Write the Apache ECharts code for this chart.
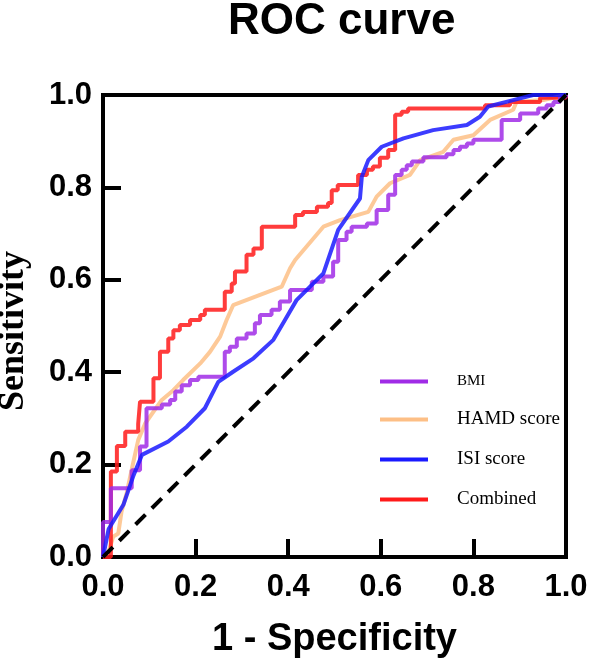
<!DOCTYPE html>
<html>
<head>
<meta charset="utf-8">
<script src="https://cdn.jsdelivr.net/npm/echarts@6/dist/echarts.min.js"></script>
<style>
  html, body { margin: 0; padding: 0; background: #fff; }
  #chart { width: 591px; height: 659px; }
</style>
</head>
<body>
<div id="chart"></div>
<script>
// ROC points: [1 - specificity, sensitivity]
// BMI and Combined are stepwise (each point = top of a vertical rise)
var bmi = [
  [0, 0], [0, 0.076], [0.017, 0.149], [0.062, 0.188], [0.080, 0.239], [0.094, 0.322],
  [0.127, 0.330], [0.145, 0.340], [0.156, 0.358], [0.170, 0.372], [0.188, 0.383],
  [0.206, 0.390], [0.263, 0.444], [0.274, 0.455], [0.289, 0.473], [0.310, 0.484],
  [0.328, 0.506], [0.339, 0.524], [0.364, 0.535], [0.382, 0.553], [0.404, 0.578],
  [0.451, 0.596], [0.476, 0.607], [0.497, 0.639], [0.508, 0.686], [0.526, 0.704],
  [0.537, 0.715], [0.570, 0.722], [0.591, 0.751], [0.616, 0.784], [0.631, 0.827],
  [0.645, 0.838], [0.656, 0.848], [0.667, 0.856], [0.692, 0.865], [0.742, 0.872],
  [0.757, 0.881], [0.771, 0.888], [0.786, 0.895], [0.800, 0.903], [0.861, 0.946],
  [0.901, 0.960], [0.940, 0.971], [0.958, 0.978], [0.973, 0.985], [0.987, 0.996], [1, 1]
];
var hamd = [
  [0, 0], [0.011, 0.008], [0.022, 0.044], [0.033, 0.051], [0.040, 0.098], [0.051, 0.138],
  [0.065, 0.203], [0.076, 0.253], [0.091, 0.289], [0.127, 0.340], [0.152, 0.361],
  [0.173, 0.383], [0.210, 0.419], [0.231, 0.444], [0.253, 0.477], [0.267, 0.513],
  [0.281, 0.545], [0.386, 0.585], [0.404, 0.625], [0.415, 0.643], [0.476, 0.715],
  [0.512, 0.729], [0.573, 0.747], [0.591, 0.780], [0.620, 0.809], [0.663, 0.827],
  [0.685, 0.859], [0.735, 0.877], [0.757, 0.903], [0.800, 0.913], [0.836, 0.946],
  [0.886, 0.968], [0.893, 0.985], [0.951, 0.989], [1, 1]
];
var isi = [
  [0, 0], [0.012, 0.060], [0.019, 0.072], [0.044, 0.113], [0.065, 0.174], [0.084, 0.221],
  [0.141, 0.250], [0.181, 0.282], [0.220, 0.322], [0.249, 0.379], [0.281, 0.401],
  [0.325, 0.430], [0.368, 0.470], [0.393, 0.513], [0.418, 0.556], [0.476, 0.614],
  [0.508, 0.708], [0.555, 0.776], [0.559, 0.823], [0.573, 0.859], [0.602, 0.888],
  [0.649, 0.906], [0.713, 0.924], [0.786, 0.935], [0.814, 0.953], [0.832, 0.975],
  [0.886, 0.989], [0.929, 1.0], [1, 1]
];
var combined = [
  [0, 0], [0.017, 0.185], [0.030, 0.240], [0.048, 0.271], [0.076, 0.288], [0.080, 0.336],
  [0.109, 0.387], [0.123, 0.444], [0.141, 0.473], [0.152, 0.491], [0.166, 0.502],
  [0.188, 0.513], [0.210, 0.524], [0.220, 0.535], [0.263, 0.574], [0.278, 0.592],
  [0.285, 0.618], [0.310, 0.654], [0.325, 0.668], [0.343, 0.715], [0.415, 0.740],
  [0.432, 0.747], [0.462, 0.758], [0.486, 0.766], [0.494, 0.794], [0.507, 0.805],
  [0.551, 0.827], [0.570, 0.838], [0.583, 0.845], [0.598, 0.864], [0.616, 0.881],
  [0.631, 0.957], [0.645, 0.964], [0.659, 0.971], [0.825, 0.978], [0.879, 0.985],
  [0.944, 0.994], [1, 1]
];
var reference = [[0, 0], [1, 1]];
var legendNames = ['BMI', 'HAMD score', 'ISI score', 'Combined'];

var sans = '"Liberation Sans", Arial, sans-serif';
var serif = '"Liberation Serif", "Times New Roman", serif';

var chart = echarts.init(document.getElementById('chart'));

function axisCommon(name) {
  return {
    type: 'value',
    min: 0,
    max: 1,
    interval: 0.2,
    name: name,
    nameLocation: 'middle',
    axisLine: { show: true, lineStyle: { color: '#000', width: 4 } },
    axisTick: { show: true, inside: true, length: 18, lineStyle: { color: '#000', width: 4 } },
    splitLine: { show: false },
    axisLabel: {
      color: '#000',
      fontSize: 31,
      fontWeight: 'bold',
      fontFamily: sans,
      formatter: function (v) { return v.toFixed(1); }
    }
  };
}

var xAxis = axisCommon('1 - Specificity');
xAxis.nameGap = 64;
xAxis.nameTextStyle = { color: '#000', fontSize: 38, fontWeight: 'bold', fontFamily: sans };
xAxis.axisLabel.margin = 15;

var yAxis = axisCommon('Sensitivity');
yAxis.nameGap = 71;
yAxis.nameRotate = 90;
yAxis.nameTextStyle = {
  color: '#000', fontSize: 36, fontWeight: 'bold', fontFamily: serif,
  padding: [0, 10, 0, 0]
};
yAxis.axisLabel.margin = 11;

function curve(name, data, color, step) {
  return {
    name: name,
    type: 'line',
    data: data,
    step: step ? 'end' : false,
    symbol: 'none',
    color: color,
    lineStyle: { color: color, width: 4, opacity: 0.85 },
    animation: false
  };
}

chart.setOption({
  animation: false,
  title: {
    text: 'ROC curve',
    left: 228,
    top: 0,
    padding: 0,
    textStyle: { color: '#000', fontSize: 44, fontWeight: 'bold', fontFamily: sans }
  },
  grid: {
    left: 103,
    right: 25,
    top: 95,
    bottom: 102,
    outerBoundsMode: 'none',
    containLabel: false,
    show: true,
    borderColor: '#000',
    borderWidth: 4
  },
  legend: {
    data: legendNames,
    orient: 'vertical',
    left: 375,
    top: 369,
    icon: 'rect',
    itemWidth: 48,
    itemHeight: 4,
    itemGap: 21,
    formatter: function (name) {
      return name === 'BMI' ? '{s|' + name + '}' : '{n|' + name + '}';
    },
    textStyle: {
      padding: [0, 0, 0, 24],
      rich: {
        s: { fontSize: 15, fontFamily: serif, color: '#000', lineHeight: 20 },
        n: { fontSize: 19, fontFamily: serif, color: '#000', lineHeight: 20 }
      }
    }
  },
  xAxis: xAxis,
  yAxis: yAxis,
  series: [
    curve('HAMD score', hamd, '#FDBF86', false),
    curve('Combined', combined, '#FF1A1A', true),
    curve('BMI', bmi, '#A02BE6', true),
    curve('ISI score', isi, '#1A1AFF', false),
    {
      name: 'Reference',
      type: 'line',
      data: reference,
      symbol: 'none',
      silent: true,
      z: 5,
      lineStyle: { color: '#000', width: 4, type: [14, 9] }
    }
  ]
});
</script>
</body>
</html>
